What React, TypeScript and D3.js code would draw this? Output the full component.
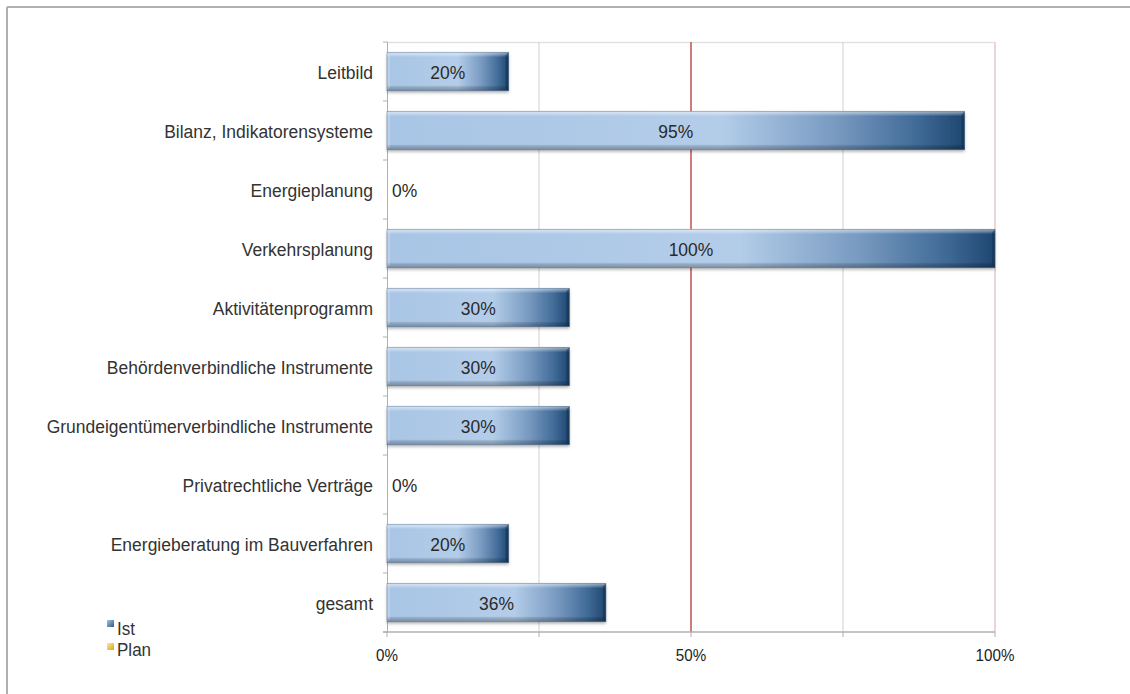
import React from "react";
import * as d3 from "d3";

const categories = [
  "Leitbild",
  "Bilanz, Indikatorensysteme",
  "Energieplanung",
  "Verkehrsplanung",
  "Aktivitätenprogramm",
  "Behördenverbindliche Instrumente",
  "Grundeigentümerverbindliche Instrumente",
  "Privatrechtliche Verträge",
  "Energieberatung im Bauverfahren",
  "gesamt",
];
const istValues = [20, 95, 0, 100, 30, 30, 30, 0, 20, 36];
const xTicks = [0, 50, 100];
const gridTicks = [25, 50, 75, 100];
const legendItems = ["Ist", "Plan"];

const W = 1130;
const H = 694;
const FONT = "'Liberation Sans', Arial, Helvetica, sans-serif";
const SX = 0.92;

function T(props: {
  x: number;
  y: number;
  size: number;
  anchor?: "start" | "middle" | "end";
  fill?: string;
  children: React.ReactNode;
}) {
  return (
    <text
      transform={`translate(${props.x},${props.y}) scale(${SX},1)`}
      textAnchor={props.anchor || "start"}
      fontFamily={FONT}
      fontSize={props.size}
      fill={props.fill || "#333"}
    >
      {props.children}
    </text>
  );
}

export default function App() {
  const x = d3.scaleLinear().domain([0, 100]).range([387, 995]);
  const y = d3
    .scaleBand<string>()
    .domain(categories)
    .range([42, 632])
    .paddingInner(0.35)
    .paddingOuter(0.175);
  const step = y.step();
  const bh = y.bandwidth();
  const bev = 3;

  const bandEdges = d3.range(categories.length + 1).map((i) => 42 + i * step);

  return (
    <svg
      width={W}
      height={H}
      style={{ position: "absolute", left: 0, top: 0, background: "#fff" }}
    >
      <defs>
        <linearGradient id="barH" x1="0" x2="1" y1="0" y2="0">
          <stop offset="0" stopColor="#a9c5e5" />
          <stop offset="0.58" stopColor="#b3cde9" />
          <stop offset="0.78" stopColor="#7799c0" />
          <stop offset="0.92" stopColor="#3f6a96" />
          <stop offset="1" stopColor="#1f4670" />
        </linearGradient>
        <linearGradient id="barV" x1="0" x2="0" y1="0" y2="1">
          <stop offset="0" stopColor="#ffffff" stopOpacity="0.55" />
          <stop offset="0.1" stopColor="#ffffff" stopOpacity="0.15" />
          <stop offset="0.12" stopColor="#ffffff" stopOpacity="0" />
          <stop offset="0.86" stopColor="#000000" stopOpacity="0" />
          <stop offset="0.9" stopColor="#000000" stopOpacity="0.15" />
          <stop offset="1" stopColor="#000000" stopOpacity="0.3" />
        </linearGradient>
        <filter id="shadow" x="-5%" y="-20%" width="110%" height="150%">
          <feDropShadow dx="0" dy="2" stdDeviation="1.5" floodColor="#000" floodOpacity="0.3" />
        </filter>
        <linearGradient id="legIst" x1="0" x2="1" y1="0" y2="1">
          <stop offset="0" stopColor="#a8c4e4" />
          <stop offset="1" stopColor="#2f5a86" />
        </linearGradient>
        <linearGradient id="legPlan" x1="0" x2="1" y1="0" y2="1">
          <stop offset="0" stopColor="#fbe9a0" />
          <stop offset="1" stopColor="#d9a917" />
        </linearGradient>
      </defs>

      {/* outer frame */}
      <line x1={7} x2={W} y1={7} y2={7} stroke="#b0b0b0" strokeWidth={2} />
      <line x1={7} x2={7} y1={7} y2={H} stroke="#b0b0b0" strokeWidth={2} />

      {/* plot top border */}
      <line x1={x(0)} x2={x(100)} y1={42.5} y2={42.5} stroke="#e3e3e3" strokeWidth={1.5} />

      {/* gridlines */}
      {gridTicks.map((t) => (
        <line
          key={t}
          x1={x(t)}
          x2={x(t)}
          y1={42}
          y2={632}
          stroke={t === 50 ? "#c0504d" : t === 100 ? "#ead6d6" : "#d0d0d0"}
          strokeWidth={t === 50 ? 1.5 : t === 100 ? 2 : 1}
        />
      ))}

      {/* left axis */}
      <line x1={387.5} x2={387.5} y1={42} y2={632} stroke="#b0b0b0" strokeWidth={1} />
      {bandEdges.map((e, i) => (
        <line key={i} x1={383} x2={387.5} y1={e} y2={e} stroke="#b0b0b0" strokeWidth={1} />
      ))}

      {/* bottom axis */}
      <line x1={383} x2={x(100)} y1={632} y2={632} stroke="#b0b0b0" strokeWidth={1.5} />
      {gridTicks.concat([0]).map((t) => (
        <line key={t} x1={x(t)} x2={x(t)} y1={632} y2={637} stroke="#b0b0b0" strokeWidth={1} />
      ))}
      {xTicks.map((t) => (
        <T key={t} x={x(t)} y={661} size={16.5} anchor="middle" fill="#222">
          {t}%
        </T>
      ))}

      {/* category labels */}
      {categories.map((c) => (
        <T key={c} x={373} y={(y(c) as number) + bh / 2 + 7} size={19} anchor="end" fill="#333">
          {c}
        </T>
      ))}

      {/* bars */}
      {categories.map((c, i) => {
        const v = istValues[i];
        const y0 = y(c) as number;
        const x0 = x(0);
        const w = x(v) - x(0);
        if (w <= 0) return null;
        const x1 = x0 + w;
        return (
          <g key={c}>
            <rect x={x0} y={y0} width={w} height={bh} fill="url(#barH)" filter="url(#shadow)" />
            <rect x={x0} y={y0} width={w} height={bh} fill="url(#barV)" />
            <polygon
              points={`${x1 - bev},${y0 + bev} ${x1},${y0} ${x1},${y0 + bh} ${x1 - bev},${y0 + bh - bev}`}
              fill="#0f2a48"
              fillOpacity={0.45}
            />
            <polygon
              points={`${x0},${y0} ${x0 + bev},${y0 + bev} ${x0 + bev},${y0 + bh - bev} ${x0},${y0 + bh}`}
              fill="#ffffff"
              fillOpacity={0.2}
            />
            <rect x={x0} y={y0} width={w} height={bh} fill="none" stroke="#3a5f88" strokeOpacity={0.5} strokeWidth={0.8} />
          </g>
        );
      })}

      {/* value labels */}
      {categories.map((c, i) => {
        const v = istValues[i];
        const yb = (y(c) as number) + bh / 2 + 7;
        const inside = v > 0;
        return (
          <T
            key={c}
            x={inside ? (x(0) + x(v)) / 2 : x(0) + 5}
            y={yb}
            size={19}
            anchor={inside ? "middle" : "start"}
            fill="#2a2a2a"
          >
            {v}%
          </T>
        );
      })}

      {/* legend */}
      {legendItems.map((l, i) => (
        <g key={l}>
          <rect
            x={107}
            y={620 + i * 23}
            width={7}
            height={7}
            fill={i === 0 ? "url(#legIst)" : "url(#legPlan)"}
          />
          <T x={117} y={635 + i * 21} size={18.5} fill="#333">
            {l}
          </T>
        </g>
      ))}
    </svg>
  );
}
